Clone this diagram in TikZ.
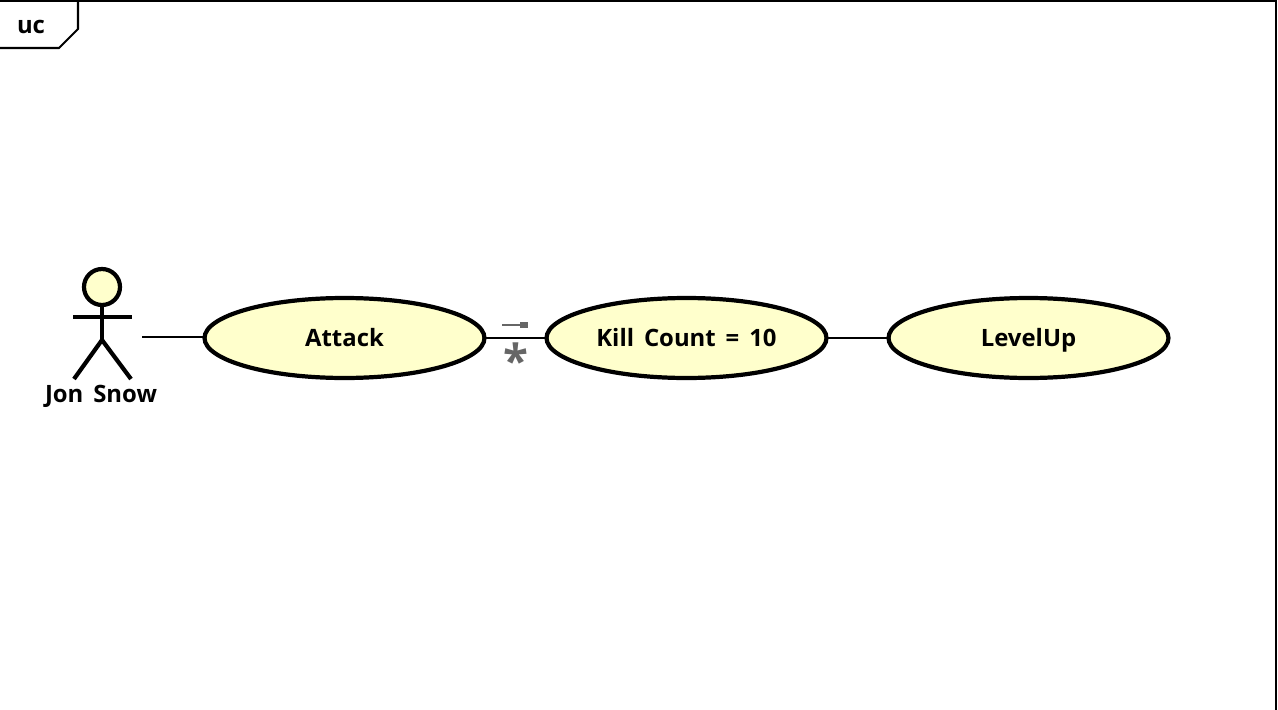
\documentclass[tikz,border=0pt]{standalone}
\usepackage{fontspec}
\setmainfont[WordSpace=1.6]{Open Sans}
\usetikzlibrary{shapes.geometric}
\definecolor{ucfill}{HTML}{FFFFCC}
\definecolor{multgray}{HTML}{666666}
\tikzset{
  labeltext/.style={font=\fontsize{13.6}{15}\selectfont\bfseries},
  usecase/.style={draw=black,fill=ucfill,ellipse,line width=2.4pt,minimum width=5.6cm,minimum height=1.6cm,inner sep=0pt,outer sep=0pt,labeltext,text height=10pt,text depth=0pt},
  actorline/.style={black,line width=2.4pt},
  assocline/.style={black,line width=1.15pt},
  frameline/.style={black,line width=1.15pt},
  multline/.style={multgray,line width=1pt}
}
\begin{document}
\begin{tikzpicture}[x=0.02cm,y=0.02cm]
\tikzstyle{every node}+=[inner sep=0pt]
\useasboundingbox (0,0) rectangle (1278,-710);
\draw [frameline] (0,-0.8) -- (1276,-0.8) -- (1276,-710);
\draw [frameline] (0,-48) -- (59,-48) -- (78,-29) -- (78,-0.8);
\node [labeltext] (frametag) at (31,-27) {uc};
\node [circle,draw=black,fill=ucfill,line width=2.4pt,minimum size=0.72cm,outer sep=0pt] (head) at (102,-287) {};
\coordinate (hip) at (102,-340);
\coordinate (armL) at (73,-317);
\coordinate (armR) at (132,-317);
\coordinate (footL) at (74,-379);
\coordinate (footR) at (131,-379);
\draw [actorline] (head.south) -- (hip);
\draw [actorline] (armL) -- (armR);
\draw [actorline] (footL) -- (hip) -- (footR);
\node [labeltext] (jon) at (101,-396) {Jon Snow};
\node [usecase] (attack) at (344.5,-338) {Attack};
\node [usecase] (kill) at (686.5,-338) {Kill Count = 10};
\node [usecase] (levelup) at (1028.5,-338) {LevelUp};
\coordinate (actorend) at (142,-337);
\draw [assocline] (actorend) -- (actorend -| attack.west);
\draw [assocline] (attack) -- (kill);
\draw [assocline] (kill) -- (levelup);
\coordinate (multA) at (502,-325);
\coordinate (multB) at (522,-325);
\draw [multline] (multA) -- (multB);
\fill [multgray] (520,-322) rectangle (528,-328);
\node [multgray,font=\fontsize{26}{26}\selectfont\bfseries] (mult) at (516,-360.5) {*};
\end{tikzpicture}
\end{document}
